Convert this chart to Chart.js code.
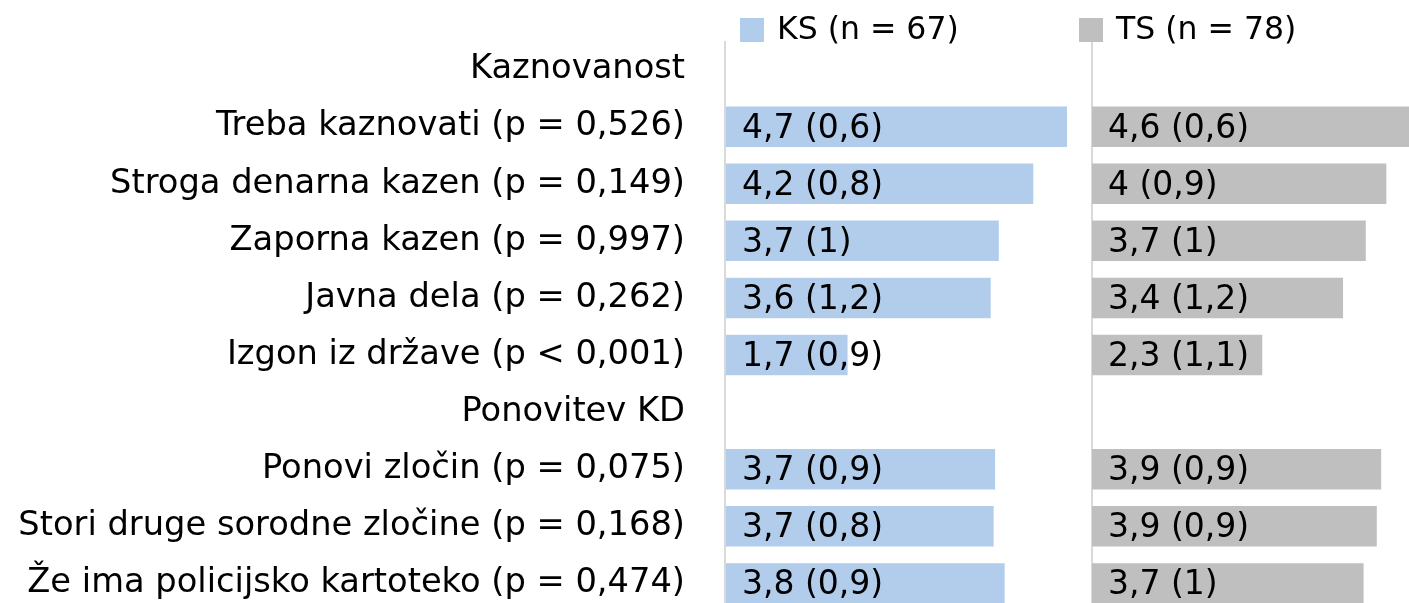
<!DOCTYPE html>
<html>
<head>
<meta charset="utf-8">
<script src="https://cdn.jsdelivr.net/npm/chart.js@4.4.1/dist/chart.umd.min.js"></script>
<style>
  html, body { margin: 0; padding: 0; overflow: hidden; background: #ffffff; }
  #wrap { position: relative; width: 1409px; height: 603px; overflow: hidden; }
  canvas { display: block; }
</style>
</head>
<body>
<div id="wrap"><canvas id="c" width="1460" height="612"></canvas></div>
<script>
// ---- data ----
const categories = [
  'Kaznovanost',
  'Treba kaznovati (p = 0,526)',
  'Stroga denarna kazen (p = 0,149)',
  'Zaporna kazen (p = 0,997)',
  'Javna dela (p = 0,262)',
  'Izgon iz države (p < 0,001)',
  'Ponovitev KD',
  'Ponovi zločin (p = 0,075)',
  'Stori druge sorodne zločine (p = 0,168)',
  'Že ima policijsko kartoteko (p = 0,474)'
];
const seriesNames = ['KS (n = 67)', 'TS (n = 78)'];
const ksMean = [null, 4.66, 4.20, 3.73, 3.62, 1.67, null, 3.68, 3.66, 3.81];
const ksSd   = [null, 0.6, 0.8, 1, 1.2, 0.9, null, 0.9, 0.8, 0.9];
const tsMean = [null, 4.6, 4.01, 3.73, 3.42, 2.32, null, 3.94, 3.88, 3.70];
const tsSd   = [null, 0.6, 0.9, 1, 1.2, 1.1, null, 0.9, 0.9, 1];
const seriesColors = ['#B2CDEC', '#BFBFBF'];
const panelMax = 5; // each panel spans 0..5

// ---- helpers ----
const fmt = v => String(Math.round(v * 10) / 10).replace('.', ',');
const FONT = "'DejaVu Sans', 'Liberation Sans', sans-serif";
Chart.defaults.font.family = FONT;

const panelData = (means, offset) => means.map(v => v == null ? null : [offset, offset + v]);

const valueLabels = {
  id: 'valueLabels',
  afterDatasetsDraw(chart) {
    const ctx = chart.ctx;
    ctx.save();
    ctx.font = '33px ' + FONT;
    ctx.fillStyle = '#000000';
    ctx.textAlign = 'left';
    ctx.textBaseline = 'alphabetic';
    chart.data.datasets.forEach((ds, di) => {
      const meta = chart.getDatasetMeta(di);
      meta.data.forEach((el, i) => {
        const m = ds.means[i];
        if (m == null) return;
        const txt = fmt(m) + ' (' + fmt(ds.sds[i]) + ')';
        ctx.fillText(txt, el.base + 16, el.y + 11);
      });
    });
    ctx.restore();
  }
};

const panelLegend = {
  id: 'panelLegend',
  afterDraw(chart, args, opts) {
    const ctx = chart.ctx;
    ctx.save();
    ctx.font = '31.5px ' + FONT;
    ctx.textAlign = 'left';
    ctx.textBaseline = 'alphabetic';
    chart.data.datasets.forEach((ds, di) => {
      const x = opts.boxX[di];
      ctx.fillStyle = ds.backgroundColor;
      ctx.fillRect(x, 18, 24, 24);
      ctx.fillStyle = '#000000';
      ctx.fillText(ds.label, x + 37, 39);
    });
    ctx.restore();
  }
};

new Chart(document.getElementById('c'), {
  type: 'bar',
  data: {
    labels: categories,
    datasets: [
      {
        label: seriesNames[0],
        data: panelData(ksMean, 0),
        means: ksMean, sds: ksSd,
        backgroundColor: seriesColors[0],
        stack: 'row'
      },
      {
        label: seriesNames[1],
        data: panelData(tsMean, panelMax),
        means: tsMean, sds: tsSd,
        backgroundColor: seriesColors[1],
        stack: 'row'
      }
    ]
  },
  options: {
    responsive: false,
    animation: false,
    indexAxis: 'y',
    layout: { padding: { top: 41, left: 0, right: 1, bottom: 0 } },
    datasets: { bar: { categoryPercentage: 1, barPercentage: 0.71 } },
    plugins: {
      legend: { display: false },
      tooltip: { enabled: false },
      panelLegend: { boxX: [740, 1079] }
    },
    scales: {
      x: {
        min: 0, max: panelMax * 2, stacked: false,
        ticks: { display: false, stepSize: panelMax },
        grid: { color: '#D9D9D9', lineWidth: 2, drawTicks: false },
        border: { display: false },
        afterFit: s => { s.height = 0; s.paddingLeft = 0; s.paddingRight = 0; }
      },
      y: {
        stacked: true,
        grid: { display: false, drawTicks: false },
        border: { display: false },
        ticks: { color: '#000000', font: { size: 33.7 }, padding: 40, autoSkip: false },
        afterFit: s => { s.width = 725; s.paddingTop = 0; s.paddingBottom = 0; }
      }
    }
  },
  plugins: [valueLabels, panelLegend]
});
</script>
</body>
</html>
